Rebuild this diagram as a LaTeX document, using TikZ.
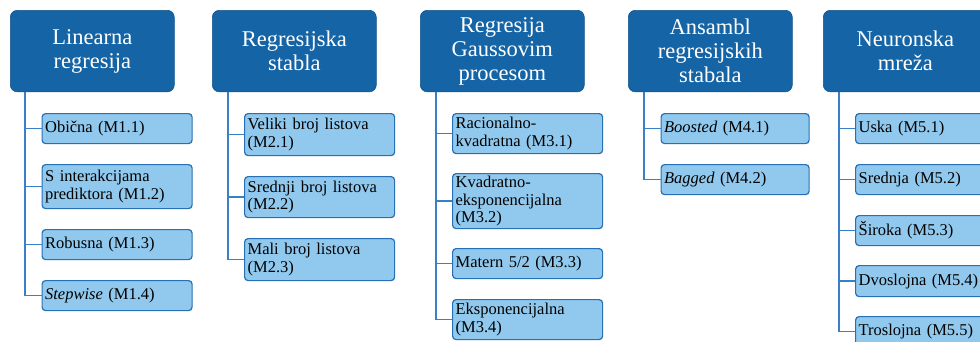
\documentclass[tikz,border=0pt]{standalone}
\usepackage{fontspec}
\setmainfont{Liberation Serif}
\definecolor{hdr}{RGB}{20,100,166}
\definecolor{chf}{RGB}{145,201,238}
\definecolor{chd}{RGB}{40,112,180}
\definecolor{cnl}{RGB}{58,128,198}
\begin{document}
\begin{tikzpicture}[x=1pt,y=-1pt,
  hdrbox/.style={fill=hdr, draw=hdr!85!black, line width=0.6pt, rounded corners=7pt,
    minimum width=164pt, minimum height=81.5pt, text width=156pt, align=center,
    inner sep=0pt, text=white, font=\rmfamily\fontsize{22.5}{24}\selectfont, anchor=north west},
  chbox/.style={draw=chd, line width=1.2pt, fill=chf, rounded corners=3.5pt,
    minimum width=150pt, text width=144pt, inner xsep=3pt, inner ysep=0pt,
    align=left, anchor=north west, font=\rmfamily\fontsize{16.5}{17.5}\selectfont},
  conn/.style={draw=cnl, line width=1.4pt}]
\useasboundingbox (0,0) rectangle (980,341);

% headers
\node[hdrbox] (h1) at (10,10) {Linearna\\regresija};
\node[hdrbox] (h2) at (212,10) {Regresijska\\stabla};
\node[hdrbox] (h3) at (420,10) {Regresija\\Gaussovim\\procesom};
\node[hdrbox] (h4) at (628,10) {Ansambl\\regresijskih\\stabala};
\node[hdrbox] (h5) at (823,10) {Neuronska\\mreža};

% column 1
\node[chbox, minimum height=30pt] (m11) at (41.5,113) {Obična (M1.1)};
\node[chbox, minimum height=44pt] (m12) at (41.5,164) {S interakcijama\\prediktora (M1.2)};
\node[chbox, minimum height=30pt] (m13) at (41.5,229) {Robusna (M1.3)};
\node[chbox, minimum height=30pt] (m14) at (41.5,280) {\textit{Stepwise} (M1.4)};

% column 2
\node[chbox, minimum height=42pt] (m21) at (244,113) {Veliki broj listova\\(M2.1)};
\node[chbox, minimum height=41pt] (m22) at (244,176) {Srednji broj listova\\(M2.2)};
\node[chbox, minimum height=42pt] (m23) at (244,238) {Mali broj listova\\(M2.3)};

% column 3
\node[chbox, minimum height=40pt] (m31) at (452,113) {Racionalno-\\kvadratna (M3.1)};
\node[chbox, minimum height=55pt] (m32) at (452,173) {Kvadratno-\\eksponencijalna\\(M3.2)};
\node[chbox, minimum height=30pt] (m33) at (452,248) {Matern 5/2 (M3.3)};
\node[chbox, minimum height=40pt] (m34) at (452,299) {Eksponencijalna\\(M3.4)};

% column 4
\node[chbox, minimum height=30pt, minimum width=148pt, text width=142pt] (m41) at (660.5,113) {\textit{Boosted} (M4.1)};
\node[chbox, minimum height=30pt, minimum width=148pt, text width=142pt] (m42) at (660.5,164) {\textit{Bagged} (M4.2)};

% column 5
\node[chbox, minimum height=30pt] (m51) at (855,113) {Uska (M5.1)};
\node[chbox, minimum height=30pt] (m52) at (855,164) {Srednja (M5.2)};
\node[chbox, minimum height=30pt] (m53) at (855,215) {Široka (M5.3)};
\node[chbox, minimum height=31pt] (m54) at (855,265) {Dvoslojna (M5.4)};
\node[chbox, minimum height=30pt] (m55) at (855,316) {Troslojna (M5.5)};

% connectors
\foreach \c in {m11,m12,m13,m14} \draw[conn] ([xshift=15pt]h1.south west) |- (\c.west);
\foreach \c in {m21,m22,m23} \draw[conn] ([xshift=16pt]h2.south west) |- (\c.west);
\foreach \c in {m31,m32,m33,m34} \draw[conn] ([xshift=16pt]h3.south west) |- (\c.west);
\foreach \c in {m41,m42} \draw[conn] ([xshift=16pt]h4.south west) |- (\c.west);
\foreach \c in {m51,m52,m53,m54,m55} \draw[conn] ([xshift=16pt]h5.south west) |- (\c.west);
\end{tikzpicture}
\end{document}
